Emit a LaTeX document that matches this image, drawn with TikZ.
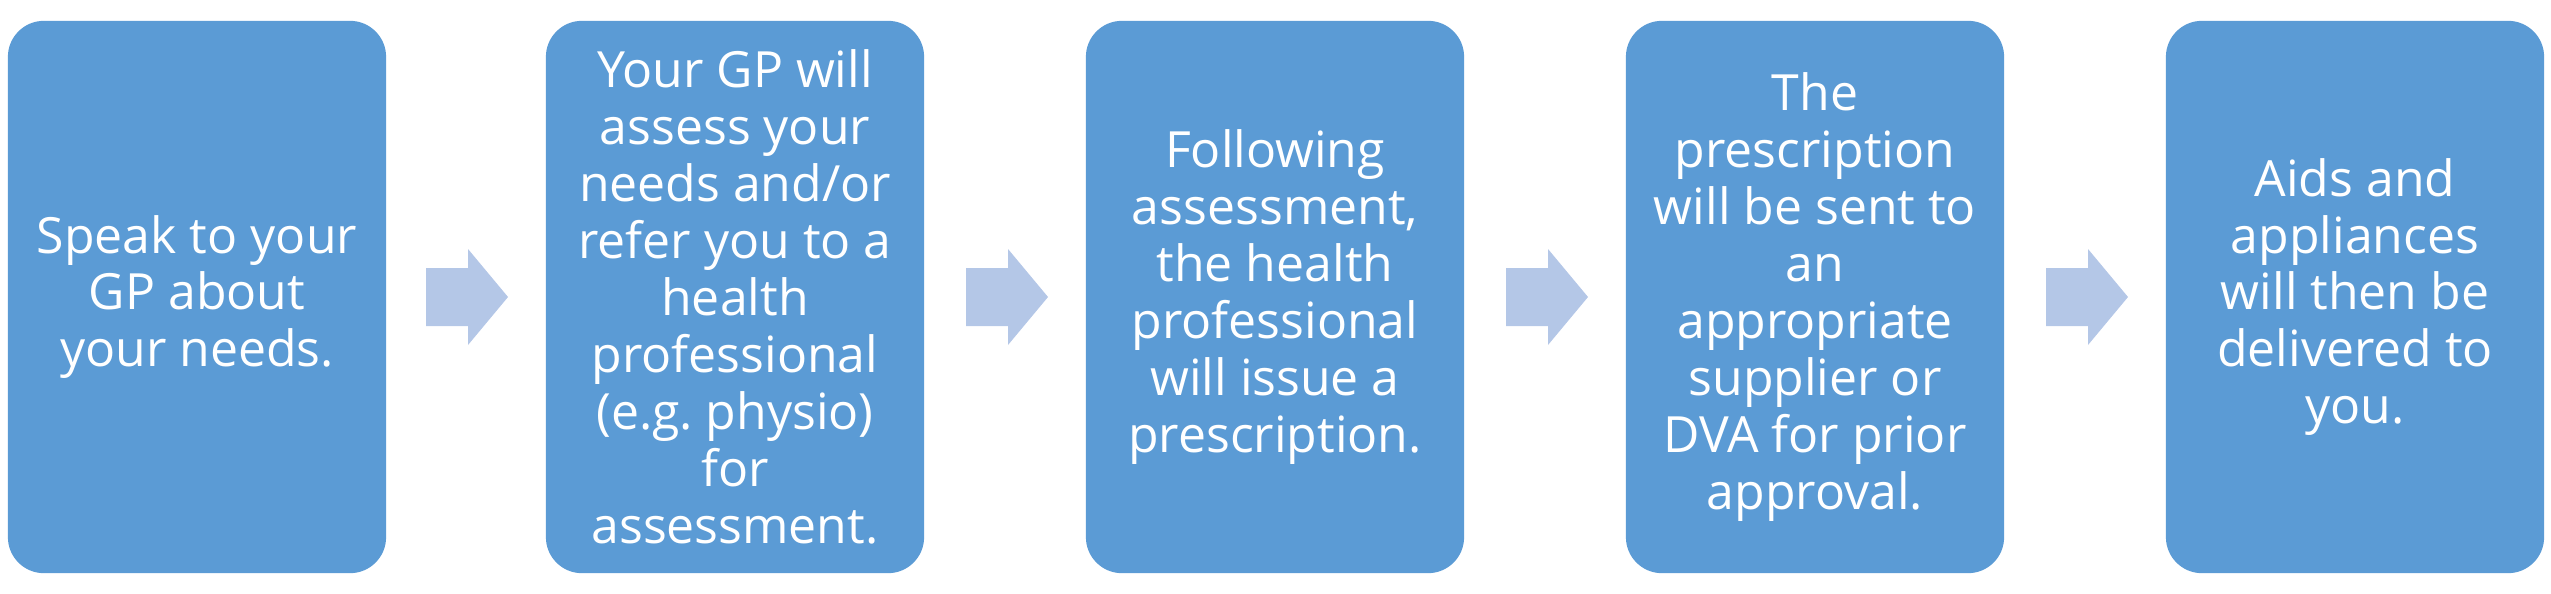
\documentclass[tikz,border=0pt]{standalone}
\usepackage{fontspec}
\setmainfont{Open Sans}
\definecolor{boxblue}{HTML}{5B9BD5}
\definecolor{arrowblue}{HTML}{B4C7E7}
\tikzstyle{stepbox}=[fill=boxblue, text=white, rounded corners=0.36cm, minimum width=3.78cm, minimum height=5.52cm, align=center, inner sep=0pt, font=\fontsize{14.2}{16.2}\selectfont]

\begin{document}
\begin{tikzpicture}[x=0.01cm, y=-0.01cm]
    \useasboundingbox (0,0) rectangle (2551,594);
% Steps
    \node[stepbox] (speak) at (197,297) {Speak to your\\GP about\\your needs.};
    \node[stepbox] (assess) at (735,297) {Your GP will\\assess your\\needs and/or\\refer you to a\\health\\professional\\(e.g.\ physio)\\for\\assessment.};
    \node[stepbox] (issue) at (1275,297) {Following\\assessment,\\the health\\professional\\will issue a\\prescription.};
    \node[stepbox] (send) at (1815,297) {The\\prescription\\will be sent to\\an\\appropriate\\supplier or\\DVA for prior\\approval.};
    \node[stepbox] (deliver) at (2355,297) {Aids and\\appliances\\will then be\\delivered to\\you.};
% Arrows between steps
    \foreach \x in {426,966,1506,2046}
        \fill[arrowblue] (\x,268) -- (\x+42,268) -- (\x+42,249) -- (\x+82,297)
            -- (\x+42,345) -- (\x+42,326) -- (\x,326) -- cycle;
\end{tikzpicture}
\end{document}
